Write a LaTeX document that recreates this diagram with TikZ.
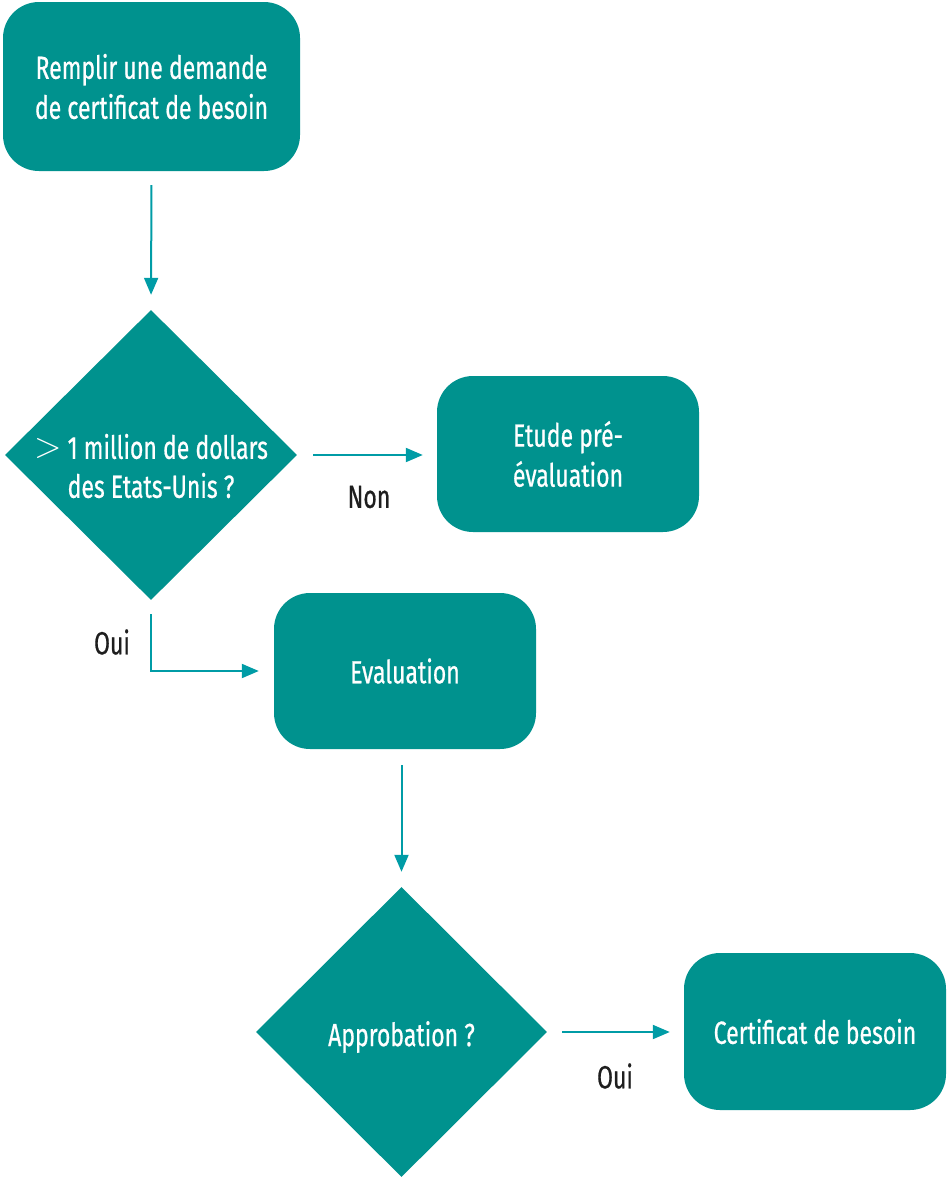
\documentclass[tikz,border=0pt]{standalone}
\usepackage{fontspec}
\setmainfont[FakeStretch=0.72,FakeBold=0.6]{Fira Sans}
\usetikzlibrary{shapes.geometric,arrows.meta}
\definecolor{teal1}{RGB}{0,146,142}
\definecolor{arrowc}{RGB}{0,156,166}
\definecolor{labc}{RGB}{30,30,30}
\tikzset{
  box/.style={draw=none,fill=teal1,rounded corners=36pt,text=white,align=center,
    font=\fontsize{32}{40}\selectfont,inner sep=0pt},
  dec/.style={diamond,aspect=1,draw=none,fill=teal1,inner sep=0pt},
  dectext/.style={text=white,align=center,font=\fontsize{32}{39}\selectfont,inner sep=0pt},
  conn/.style={draw=arrowc,line width=2pt,-{Triangle[length=17pt,width=14pt]}},
  lab/.style={text=labc,font=\fontsize{32}{36}\selectfont,inner sep=0pt}
}
\begin{document}
\begin{tikzpicture}[x=1pt,y=-1pt]
\useasboundingbox (0,0) rectangle (947,1178);
\node[box,minimum width=297pt,minimum height=169pt] (b1) at (151.5,86.5) {Remplir une demande\\de certificat de besoin};
\node[dec,minimum width=292pt,minimum height=290pt] (d1) at (151,455) {};
\node[dectext] (d1t) at ([yshift=-11pt]d1.center) {\raisebox{1pt}{\scalebox{1.45}{$>$}} 1 million de dollars\\des Etats-Unis ?};
\node[box,minimum width=262pt,minimum height=156pt] (b2) at (568,454) {Etude pré-\\évaluation};
\node[box,minimum width=262pt,minimum height=156pt] (b3) at (405,671) {Evaluation};
\node[dec,minimum width=291pt,minimum height=290pt] (d2) at (401.5,1032) {};
\node[dectext] (d2t) at ([yshift=-5pt]d2.center) {Approbation ?};
\node[box,minimum width=262pt,minimum height=157pt] (b4) at (815,1031.5) {Certificat de besoin};
\draw[conn,shorten <=14pt,shorten >=15pt] (b1.south) -- (d1.north);
\draw[conn,shorten <=16pt,shorten >=14pt] (d1.east) -- (b2.west|-d1.east);
\draw[conn,shorten <=14pt,shorten >=15pt] (d1.south) |- (b3.west);
\draw[conn,shorten <=16pt,shorten >=15pt] (b3.south-|d2.north) -- (d2.north);
\draw[conn,shorten <=15pt,shorten >=14pt] (d2.east) -- (b4.west|-d2.east);
\node[lab] (l1) at (369,497) {Non};
\node[lab] (l2) at (112,642) {Oui};
\node[lab] (l3) at (615,1076) {Oui};
\end{tikzpicture}
\end{document}
